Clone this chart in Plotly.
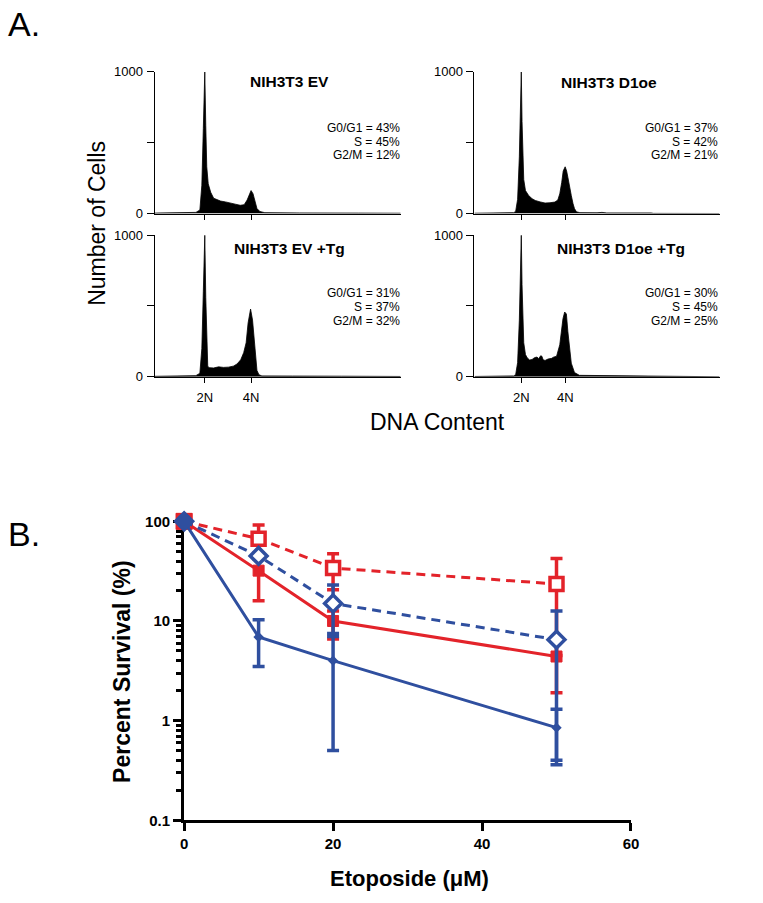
import plotly.graph_objects as go

W, H = 763, 903
FONT = "Arial, Liberation Sans, Helvetica, sans-serif"

# ---------------- Panel A data (DNA content histograms) ----------------
ev_ch = [0, 108, 168, 184, 192, 198, 204, 208, 212, 218, 228, 240, 255, 268, 288, 308,
         328, 348, 364, 376, 384, 392, 400, 408, 416, 428, 448, 588, 708, 828, 1000]
ev_counts = [3, 5, 8, 25, 200, 600, 1000, 620, 330, 210, 150, 108, 95, 88, 82, 72,
             66, 58, 62, 95, 135, 162, 140, 80, 35, 14, 6, 4, 6, 3, 2]

d1_ch = [0, 120, 160, 168, 176, 183, 187, 191, 194, 197, 201, 208, 221, 235, 248, 268,
         288, 308, 328, 340, 348, 356, 362, 370, 376, 381, 388, 395, 402, 408, 416, 430,
         500, 520, 540, 680, 700, 720, 730, 1000]
d1_counts = [2, 4, 6, 15, 100, 400, 750, 1000, 650, 380, 240, 162, 127, 105, 92, 82,
             74, 76, 81, 95, 139, 220, 300, 330, 300, 256, 180, 127, 70, 35, 12, 6,
             5, 8, 4, 5, 8, 4, 1, 0]

evtg_ch = [0, 108, 168, 184, 192, 198, 204, 208, 212, 216, 222, 240, 260, 280, 300, 320,
           335, 350, 362, 372, 380, 386, 390, 398, 404, 410, 416, 424, 436, 560, 720, 760, 1000]
evtg_counts = [3, 5, 8, 25, 200, 600, 1000, 560, 180, 75, 64, 62, 70, 66, 68, 75,
               90, 120, 170, 240, 380, 460, 478, 400, 260, 120, 45, 14, 6, 5, 8, 4, 2]

d1tg_ch = [0, 120, 160, 168, 176, 183, 187, 191, 194, 197, 201, 208, 215, 225, 235, 245,
           255, 262, 270, 275, 280, 288, 300, 315, 322, 335, 348, 361, 368, 375, 381,
           395, 408, 428, 540, 755, 770, 1000]
d1tg_counts = [2, 4, 6, 15, 100, 400, 750, 1000, 650, 380, 240, 157, 134, 118, 122, 135,
               139, 128, 148, 145, 120, 115, 125, 130, 138, 145, 226, 410, 457, 443, 319,
               96, 30, 10, 8, 5, 0, 0]

left_ploidy_ticks = [204, 392]
right_ploidy_ticks = [191, 371]
ploidy_labels = ["2N", "4N"]
count_ticks = [0, 500, 1000]
count_ticktext = ["0", "", "1000"]

titles_A = ["NIH3T3 EV", "NIH3T3 D1oe", "NIH3T3 EV +Tg", "NIH3T3 D1oe +Tg"]
ev_stats = ["G0/G1 = 43%", "S = 45%", "G2/M = 12%"]
d1_stats = ["G0/G1 = 37%", "S = 42%", "G2/M = 21%"]
evtg_stats = ["G0/G1 = 31%", "S = 37%", "G2/M = 32%"]
d1tg_stats = ["G0/G1 = 30%", "S = 45%", "G2/M = 25%"]

# ---------------- Panel B data (survival) ----------------
doses = [0, 10, 20, 50]
ev_surv = [100, 32, 10, 4.4]
ev_err_up = [0, 16, 2.6, 2.5]
ev_err_dn = [0, 16, 3.4, 2.5]
evtg_surv = [100, 67, 34, 23.5]
evtg_err_up = [0, 25, 13.4, 19]
evtg_err_dn = [0, 25, 13.4, 19]
d1tg_surv = [100, 45, 15, 6.5]
d1tg_err_up = [0, 2, 8, 6.1]
d1tg_err_dn = [0, 2, 8, 6.1]
d1_surv = [100, 6.9, 4.0, 0.85]
d1_err_up = [0, 3.4, 3.5, 0.45]
d1_err_dn = [0, 3.4, 3.5, 0.49]

y_major = [0.1, 1, 10, 100]
y_major_text = ["0.1", "1", "10", "100"]
y_minor = [0.2, 0.3, 0.4, 0.5, 0.6, 0.7, 0.8, 0.9, 2, 3, 4, 5, 6, 7, 8, 9,
           20, 30, 40, 50, 60, 70, 80, 90]
x_ticks_B = [0, 20, 40, 60]

RED = "#e3232a"
BLUE = "#2f4f9f"


def fx(px):
    return px / W


def fy(py):
    return 1 - py / H


fig = go.Figure()

hists = [(ev_ch, ev_counts, ""), (d1_ch, d1_counts, "2"),
         (evtg_ch, evtg_counts, "3"), (d1tg_ch, d1tg_counts, "4")]
for xs, ys, s in hists:
    fig.add_trace(go.Scatter(x=xs, y=ys, mode="lines", fill="tozeroy",
                             fillcolor="black", line=dict(color="black", width=0.8),
                             xaxis="x" + s, yaxis="y" + s, showlegend=False,
                             hoverinfo="skip"))

series = [
    (evtg_surv, evtg_err_up, evtg_err_dn, RED, "9px,6px",
     dict(symbol="square", size=[13, 13, 13, 13], color="white", line=dict(color=RED, width=3.5))),
    (ev_surv, ev_err_up, ev_err_dn, RED, "solid",
     dict(symbol="square", size=[16, 11, 11, 11], color=RED, line=dict(color=RED, width=1))),
    (d1tg_surv, d1tg_err_up, d1tg_err_dn, BLUE, "9px,6px",
     dict(symbol="diamond", size=[13, 13, 13, 13], color="white", line=dict(color=BLUE, width=3.5))),
    (d1_surv, d1_err_up, d1_err_dn, BLUE, "solid",
     dict(symbol=["circle", "diamond", "diamond", "diamond"], size=[15, 8, 8, 8], color=BLUE,
          line=dict(color=BLUE, width=0))),
]
for ys, eu, ed, col, dash, mk in series:
    mk = dict(mk, opacity=1)
    fig.add_trace(go.Scatter(
        x=doses, y=ys, mode="lines+markers", xaxis="x5", yaxis="y5",
        line=dict(color=col, width=3, dash=dash), marker=mk,
        error_y=dict(type="data", symmetric=False, array=eu, arrayminus=ed,
                     color=col, thickness=3.5, width=6),
        cliponaxis=False, showlegend=False, hoverinfo="skip"))

hist_x_common = dict(range=[0, 1000], showline=True, linecolor="black", linewidth=1,
                     ticks="outside", ticklen=5, tickwidth=1, tickcolor="black",
                     showgrid=False, zeroline=False, tickmode="array",
                     tickfont=dict(family=FONT, size=13, color="black"),
                     ticklabelstandoff=4)
hist_y_common = dict(range=[0, 1000], showline=True, linecolor="black", linewidth=1,
                     ticks="outside", ticklen=7, tickwidth=1, tickcolor="black",
                     showgrid=False, zeroline=False, tickmode="array",
                     tickvals=count_ticks, ticktext=count_ticktext,
                     ticklabelstandoff=1,
                     tickfont=dict(family=FONT, size=13, color="black"))

cols = [(153, 403, left_ploidy_ticks), (478, 727, right_ploidy_ticks)]
rows = [(66, 210, False), (232, 376, True)]
k = 0
for r_top, r_bot, labels in rows:
    for c0, c1, tks in cols:
        k += 1
        s = "" if k == 1 else str(k)
        fig.update_layout(**{
            "xaxis" + s: dict(hist_x_common, domain=[fx(c0), fx(c1)], anchor="y" + s,
                              tickvals=tks, ticktext=ploidy_labels, showticklabels=labels),
            "yaxis" + s: dict(hist_y_common, domain=[fy(r_bot), fy(r_top)], anchor="x" + s),
        })

fig.update_layout(
    xaxis5=dict(domain=[fx(183), fx(637)], anchor="y5", range=[0, 60],
                showline=True, linecolor="black", linewidth=3, ticks="outside",
                ticklen=8, tickwidth=3, tickcolor="black", tickmode="array",
                tickvals=x_ticks_B, showgrid=False, zeroline=False, layer="below traces",
                tickfont=dict(family=FONT, size=15, color="black", weight="bold")),
    yaxis5=dict(domain=[fy(827), fy(520)], anchor="x5", type="log", range=[-1, 2.03],
                showline=True, linecolor="black", linewidth=3, ticks="outside",
                ticklen=8, tickwidth=3, tickcolor="black", tickmode="array",
                tickvals=y_major, ticktext=y_major_text, showgrid=False, zeroline=False,
                layer="below traces",
                minor=dict(ticks="outside", ticklen=5, tickwidth=2.5, tickcolor="black",
                           tickmode="array", tickvals=y_minor, showgrid=False),
                tickfont=dict(family=FONT, size=15, color="black", weight="bold")),
)

ann = []


def text(x, y, t, size, bold=False, xanchor="center", angle=0):
    ann.append(dict(x=fx(x), y=fy(y), xref="paper", yref="paper", text=t,
                    showarrow=False, xanchor=xanchor, yanchor="middle", textangle=angle,
                    font=dict(family=FONT, size=size, color="black",
                              weight="bold" if bold else "normal")))


text(2, 17, "A.", 34, xanchor="left")
text(2, 536, "B.", 34, xanchor="left")

title_pos = [(290, 76), (615, 77), (290, 246), (627, 246)]
for t, (x, y) in zip(titles_A, title_pos):
    text(x, y, t, 15.5, bold=True)

stat_sets = [(ev_stats, 404, [123, 137, 151]), (d1_stats, 727, [123, 137, 151]),
             (evtg_stats, 404, [291, 305, 319]), (d1tg_stats, 727, [291, 305, 319])]
for lines, xr, ys in stat_sets:
    for t, y in zip(lines, ys):
        text(xr, y, t, 12, xanchor="right")

text(440, 422, "DNA Content", 23)
text(95, 220, "Number of Cells", 23, angle=-90)
text(412, 886, "Etoposide (\u03bcM)", 22, bold=True)
text(120, 676, "Percent Survival (%)", 23, bold=True, angle=-90)

fig.update_layout(width=W, height=H, margin=dict(l=0, r=0, t=0, b=0),
                  paper_bgcolor="white", plot_bgcolor="white", annotations=ann,
                  showlegend=False, hovermode=False)

fig.write_html("out.html", config={"displayModeBar": False},
               post_script="document.body.style.margin='0';document.body.style.padding='0';"
                           "document.documentElement.style.overflow='hidden';")
